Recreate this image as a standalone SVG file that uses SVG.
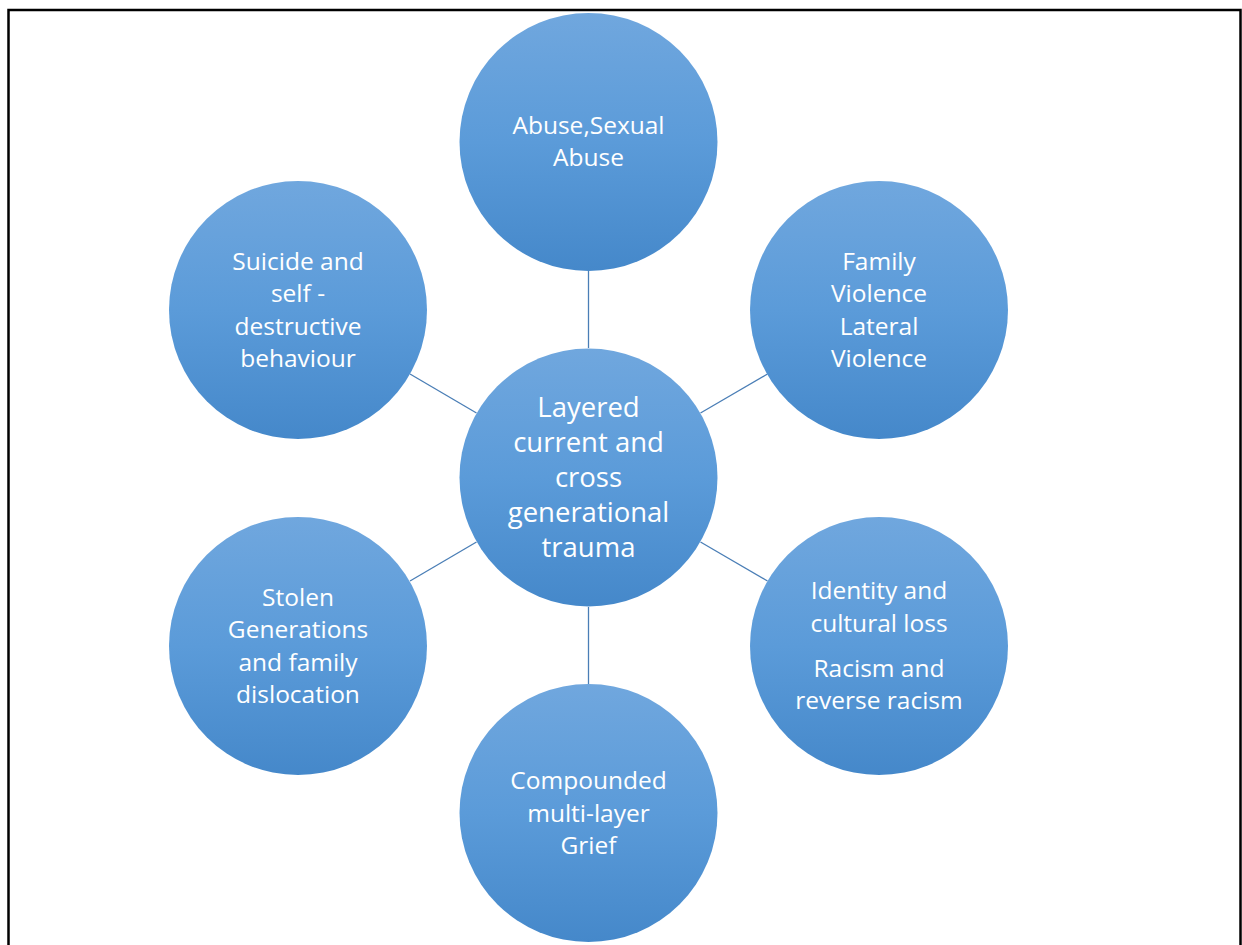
<svg xmlns="http://www.w3.org/2000/svg" width="1242" height="945" viewBox="0 0 1242 945">
  <defs>
    <linearGradient id="bubble" x1="0" y1="0" x2="0" y2="1">
      <stop offset="0" stop-color="#70a7de"/>
      <stop offset="0.5" stop-color="#5b9bd9"/>
      <stop offset="1" stop-color="#4588ca"/>
    </linearGradient>
  </defs>
  <style>
    .node circle { fill: url(#bubble); }
    .node text { fill: #ffffff; font-family: "Open Sans", "Liberation Sans", sans-serif; font-size: 24.5px; text-anchor: middle; }
    #hub text { font-size: 27.5px; }
    .links line { stroke: #4a7eb6; stroke-width: 1.3; }
  </style>

  <rect x="8.5" y="10" width="1232" height="960" fill="#ffffff" stroke="#000000" stroke-width="2.5"/>

  <g class="links">
    <line x1="588.5" y1="271" x2="588.5" y2="348"/>
    <line x1="588.5" y1="607" x2="588.5" y2="684"/>
    <line x1="700.5" y1="413" x2="767.5" y2="374"/>
    <line x1="476.5" y1="413" x2="410" y2="374"/>
    <line x1="700.5" y1="542" x2="767.5" y2="581"/>
    <line x1="476.5" y1="542" x2="410" y2="581"/>
  </g>

  <g id="hub" class="node">
    <circle cx="588.5" cy="477.5" r="129"/>
    <text x="588.5" y="417">Layered</text>
    <text x="588.5" y="452">current and</text>
    <text x="588.5" y="487">cross</text>
    <text x="588.5" y="522">generational</text>
    <text x="588.5" y="557">trauma</text>
  </g>

  <g id="abuse" class="node">
    <circle cx="588.5" cy="142" r="129"/>
    <text x="588.5" y="134">Abuse,Sexual</text>
    <text x="588.5" y="166">Abuse</text>
  </g>

  <g id="family-violence" class="node">
    <circle cx="879" cy="310" r="129"/>
    <text x="879" y="270">Family</text>
    <text x="879" y="302">Violence</text>
    <text x="879" y="335">Lateral</text>
    <text x="879" y="367">Violence</text>
  </g>

  <g id="identity" class="node">
    <circle cx="879" cy="646" r="129"/>
    <text x="879" y="599">Identity and</text>
    <text x="879" y="632">cultural loss</text>
    <text x="879" y="677">Racism and</text>
    <text x="879" y="709">reverse racism</text>
  </g>

  <g id="grief" class="node">
    <circle cx="588.5" cy="813" r="129"/>
    <text x="588.5" y="789">Compounded</text>
    <text x="588.5" y="822">multi-layer</text>
    <text x="588.5" y="854">Grief</text>
  </g>

  <g id="stolen-generations" class="node">
    <circle cx="298" cy="646" r="129"/>
    <text x="298" y="606">Stolen</text>
    <text x="298" y="638">Generations</text>
    <text x="298" y="671">and family</text>
    <text x="298" y="703">dislocation</text>
  </g>

  <g id="suicide" class="node">
    <circle cx="298" cy="310" r="129"/>
    <text x="298" y="270">Suicide and</text>
    <text x="298" y="302">self -</text>
    <text x="298" y="335">destructive</text>
    <text x="298" y="367">behaviour</text>
  </g>
</svg>
